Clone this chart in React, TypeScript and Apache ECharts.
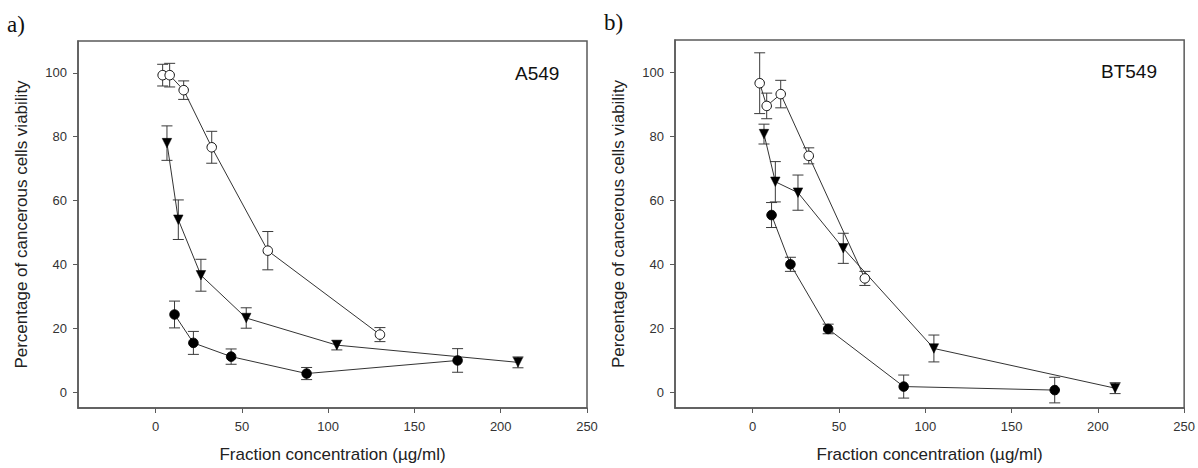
import React, { useEffect, useRef } from "react";
import * as echarts from "echarts";

// Concentrations (µg/ml)
const openX = [4.06, 8.13, 16.25, 32.5, 65, 130];
const triX = [6.56, 13.13, 26.25, 52.5, 105, 210];
const fillX = [10.94, 21.88, 43.75, 87.5, 175];

// Panel a) A549
const a549OpenY = [99.3, 99.3, 94.6, 76.7, 44.3, 18.0];
const a549OpenErr = [3.4, 3.7, 2.9, 5.0, 6.0, 2.2];
const a549TriY = [78.0, 54.0, 36.6, 23.2, 14.7, 9.3];
const a549TriErr = [5.4, 6.2, 5.0, 3.2, 1.5, 1.7];
const a549FillY = [24.3, 15.4, 11.1, 5.8, 9.9];
const a549FillErr = [4.2, 3.6, 2.4, 1.9, 3.7];

// Panel b) BT549
const bt549OpenX = [4.06, 8.13, 16.25, 32.5, 65];
const bt549OpenY = [96.5, 89.4, 93.1, 73.8, 35.5];
const bt549OpenErr = [9.5, 4.0, 4.3, 2.5, 2.2];
const bt549TriY = [80.6, 65.7, 62.3, 44.9, 13.6, 1.2];
const bt549TriErr = [3.1, 6.3, 5.5, 4.7, 4.2, 1.7];
const bt549FillY = [55.3, 39.9, 19.7, 1.7, 0.6];
const bt549FillErr = [3.9, 2.2, 1.5, 3.6, 4.0];

const xTicks = [0, 50, 100, 150, 200, 250];
const yTicks = [0, 20, 40, 60, 80, 100];

const xTitle = "Fraction concentration (µg/ml)";
const yTitle = "Percentage of cancerous cells viability";

const FONT = "'Liberation Sans', Arial, sans-serif";
const AXIS_COLOR = "#5a5a5a";
const LINE_COLOR = "#333";

function zip(xs: number[], ys: number[]) {
  return ys.map((y, i) => [xs[i], y]);
}
function zip3(xs: number[], ys: number[], es: number[]) {
  return ys.map((y, i) => [xs[i], y, es[i]]);
}

function errRender(params: any, api: any) {
  const x = api.value(0);
  const y = api.value(1);
  const e = api.value(2);
  const hi = api.coord([x, y + e]);
  const lo = api.coord([x, y - e]);
  const w = 5.5;
  const style = { stroke: "#3a3a3a", lineWidth: 1 };
  return {
    type: "group",
    children: [
      { type: "line", shape: { x1: hi[0], y1: hi[1], x2: lo[0], y2: lo[1] }, style },
      { type: "line", shape: { x1: hi[0] - w, y1: hi[1], x2: hi[0] + w, y2: hi[1] }, style },
      { type: "line", shape: { x1: lo[0] - w, y1: lo[1], x2: lo[0] + w, y2: lo[1] }, style },
    ],
  };
}

function makeX(idx: number) {
  return {
    type: "value",
    gridIndex: idx,
    min: -45,
    max: 250,
    name: xTitle,
    nameLocation: "middle",
    nameGap: 38,
    nameTextStyle: { fontFamily: FONT, fontSize: 17, color: "#222" },
    axisLine: { show: true, onZero: false, lineStyle: { color: AXIS_COLOR, width: 1.5 } },
    axisTick: { show: true, length: 5, inside: false, customValues: xTicks, lineStyle: { color: AXIS_COLOR } },
    axisLabel: { customValues: xTicks, margin: 12, fontFamily: FONT, fontSize: 13, color: "#333", hideOverlap: false },
    splitLine: { show: false },
  };
}

function makeY(idx: number) {
  return {
    type: "value",
    gridIndex: idx,
    min: -5,
    max: 110,
    name: yTitle,
    nameLocation: "middle",
    nameGap: 48,
    nameTextStyle: { fontFamily: FONT, fontSize: 17, color: "#222" },
    axisLine: { show: true, onZero: false, lineStyle: { color: AXIS_COLOR, width: 1.5 } },
    axisTick: { show: true, length: 5, inside: false, customValues: yTicks, lineStyle: { color: AXIS_COLOR } },
    axisLabel: { customValues: yTicks, margin: 11, fontFamily: FONT, fontSize: 13, color: "#333", hideOverlap: false },
    splitLine: { show: false },
  };
}

function lineSeries(idx: number, data: number[][], kind: "open" | "tri" | "fill") {
  const base: any = {
    type: "line",
    xAxisIndex: idx,
    yAxisIndex: idx,
    data,
    z: 3,
    lineStyle: { color: LINE_COLOR, width: 1 },
    emphasis: { disabled: true },
  };
  if (kind === "open") {
    base.symbol = "circle";
    base.symbolSize = 9.5;
    base.itemStyle = { color: "#fff", borderColor: "#111", borderWidth: 1 };
  } else if (kind === "fill") {
    base.symbol = "circle";
    base.symbolSize = 9.5;
    base.itemStyle = { color: "#000", borderColor: "#000", borderWidth: 1 };
  } else {
    base.symbol = "triangle";
    base.symbolRotate = 180;
    base.symbolSize = 9.5;
    base.itemStyle = { color: "#000", borderColor: "#000", borderWidth: 0.5 };
  }
  return base;
}

function errSeries(idx: number, data: number[][]) {
  return {
    type: "custom",
    xAxisIndex: idx,
    yAxisIndex: idx,
    z: 2,
    data,
    encode: { x: 0, y: 1 },
    renderItem: errRender,
    silent: true,
  };
}

export default function App() {
  const ref = useRef<HTMLDivElement>(null);
  useEffect(() => {
    if (!ref.current) return;
    const chart = echarts.init(ref.current, undefined, { renderer: "svg" });
    const option: any = {
      animation: false,
      backgroundColor: "#fff",
      grid: [
        { left: 78, top: 41, width: 509, height: 367, show: true, borderColor: AXIS_COLOR, borderWidth: 1.5, backgroundColor: "transparent" },
        { left: 675, top: 40, width: 510, height: 368, show: true, borderColor: AXIS_COLOR, borderWidth: 1.5, backgroundColor: "transparent" },
      ],
      xAxis: [makeX(0), makeX(1)],
      yAxis: [makeY(0), makeY(1)],
      series: [
        errSeries(0, zip3(openX, a549OpenY, a549OpenErr)),
        errSeries(0, zip3(triX, a549TriY, a549TriErr)),
        errSeries(0, zip3(fillX, a549FillY, a549FillErr)),
        lineSeries(0, zip(openX, a549OpenY), "open"),
        lineSeries(0, zip(triX, a549TriY), "tri"),
        lineSeries(0, zip(fillX, a549FillY), "fill"),
        errSeries(1, zip3(bt549OpenX, bt549OpenY, bt549OpenErr)),
        errSeries(1, zip3(triX, bt549TriY, bt549TriErr)),
        errSeries(1, zip3(fillX, bt549FillY, bt549FillErr)),
        lineSeries(1, zip(bt549OpenX, bt549OpenY), "open"),
        lineSeries(1, zip(triX, bt549TriY), "tri"),
        lineSeries(1, zip(fillX, bt549FillY), "fill"),
      ],
      graphic: [
        { type: "text", left: 7, top: 13, style: { text: "a)", fontFamily: "'Liberation Serif', 'Times New Roman', serif", fontSize: 23, fill: "#111" } },
        { type: "text", left: 604, top: 11, style: { text: "b)", fontFamily: "'Liberation Serif', 'Times New Roman', serif", fontSize: 23, fill: "#111" } },
        { type: "text", left: 515, top: 64, style: { text: "A549", fontFamily: FONT, fontSize: 19, fill: "#111" } },
        { type: "text", left: 1101, top: 62, style: { text: "BT549", fontFamily: FONT, fontSize: 19, fill: "#111" } },
      ],
    };
    chart.setOption(option);
    return () => chart.dispose();
  }, []);
  return (
    <div
      ref={ref}
      style={{ position: "fixed", left: 0, top: 0, width: 1198, height: 468, background: "#fff" }}
    />
  );
}
